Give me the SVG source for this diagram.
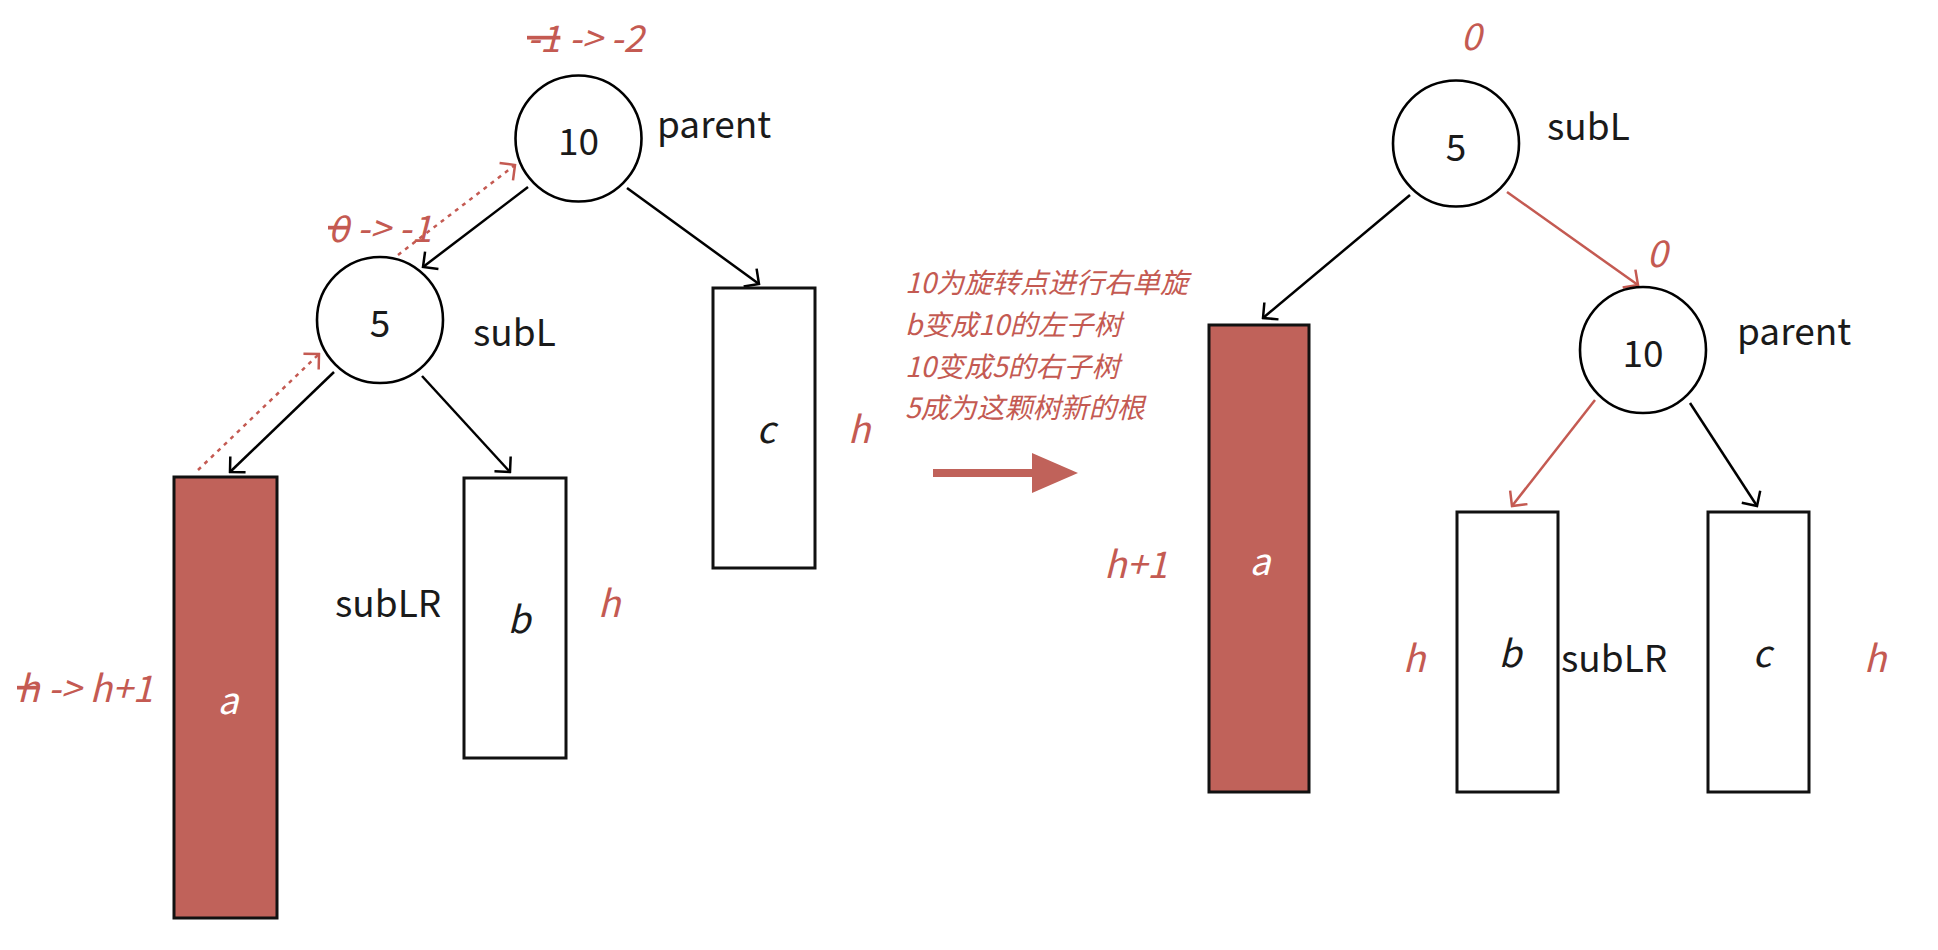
<svg xmlns="http://www.w3.org/2000/svg" width="1938" height="950" viewBox="0 0 1938 950">
<style>
.bg{fill:#ffffff}
.node{fill:#ffffff;stroke:#000;stroke-width:2.6}
.box{fill:#ffffff;stroke:#111;stroke-width:3}
.boxr{fill:#c0625a;stroke:#111;stroke-width:3}
.t{font-family:"Noto Sans CJK SC","Noto Sans",sans-serif;font-size:37px;fill:#1a1a1a}
.ti{font-family:"Noto Sans CJK SC","Noto Sans",sans-serif;font-size:37px;font-style:italic;fill:#1a1a1a}
.tw{font-family:"Noto Sans CJK SC","Noto Sans",sans-serif;font-size:37px;font-style:italic;fill:#ffffff}
.tr{font-family:"Noto Sans CJK SC","Noto Sans",sans-serif;font-size:37px;font-style:italic;fill:#c45a52}
.cn{font-family:"Noto Sans CJK SC","Noto Sans",sans-serif;font-size:28px;font-style:italic;fill:#c45a52}
.strike{text-decoration:line-through}
.lk{stroke:#000;stroke-width:2.5;fill:none}
.lr{stroke:#c45a52;stroke-width:2.5;fill:none}
.ld{stroke:#c45a52;stroke-width:2.5;fill:none;stroke-dasharray:4 5}
</style>
<defs>
<marker id="ak" viewBox="-14 -14 16 28" refX="0" refY="0" markerWidth="16" markerHeight="28" markerUnits="userSpaceOnUse" orient="auto">
<path d="M-11,-11 L0,0 L-11,11" fill="none" stroke="#000" stroke-width="2.5"/>
</marker>
<marker id="ar" viewBox="-14 -14 16 28" refX="0" refY="0" markerWidth="16" markerHeight="28" markerUnits="userSpaceOnUse" orient="auto">
<path d="M-11,-11 L0,0 L-11,11" fill="none" stroke="#c45a52" stroke-width="2.5"/>
</marker>
</defs>
<rect class="bg" x="0" y="0" width="1938" height="950"/>

<g id="connectors">
<line class="lk" x1="528" y1="187" x2="423" y2="267" marker-end="url(#ak)"/>
<line class="lk" x1="627" y1="188" x2="759" y2="284" marker-end="url(#ak)"/>
<line class="lk" x1="334" y1="372" x2="230" y2="472" marker-end="url(#ak)"/>
<line class="lk" x1="422" y1="376" x2="510" y2="472" marker-end="url(#ak)"/>
<line class="ld" x1="198" y1="470" x2="319" y2="354" marker-end="url(#ar)"/>
<line class="ld" x1="398" y1="255" x2="515" y2="165" marker-end="url(#ar)"/>
<line class="lr" x1="1507" y1="192" x2="1638" y2="285" marker-end="url(#ar)"/>
<line class="lk" x1="1410" y1="195" x2="1263" y2="318" marker-end="url(#ak)"/>
<line class="lr" x1="1595" y1="400" x2="1512" y2="506" marker-end="url(#ar)"/>
<line class="lk" x1="1690" y1="403" x2="1757" y2="506" marker-end="url(#ak)"/>
</g>

<g id="left-parent">
<circle class="node" cx="578.5" cy="138.5" r="63"/>
<text class="t" x="578.5" y="155" text-anchor="middle">10</text>
<text class="t" x="657" y="138">parent</text>
<text class="tr" x="527" y="52"><tspan class="strike">-1</tspan> -&gt; -2</text>
</g>
<g id="left-subL">
<circle class="node" cx="380" cy="320" r="63"/>
<text class="t" x="380" y="337" text-anchor="middle">5</text>
<text class="t" x="473" y="346">subL</text>
<text class="tr" x="328" y="242"><tspan class="strike">0</tspan> -&gt; -1</text>
</g>
<g id="left-a">
<rect class="boxr" x="174" y="477" width="103" height="441"/>
<text class="tw" x="228" y="714" text-anchor="middle">a</text>
<text class="tr" x="17" y="702"><tspan class="strike">h</tspan> -&gt; h+1</text>
</g>
<g id="left-b">
<rect class="box" x="464" y="478" width="102" height="280"/>
<text class="ti" x="519" y="633" text-anchor="middle">b</text>
<text class="t" x="335" y="617">subLR</text>
<text class="tr" x="609" y="617" text-anchor="middle">h</text>
</g>
<g id="left-c">
<rect class="box" x="713" y="288" width="102" height="280"/>
<text class="ti" x="766" y="443" text-anchor="middle">c</text>
<text class="tr" x="859" y="443" text-anchor="middle">h</text>
</g>

<g id="explain">
<text class="cn" x="905" y="293">10为旋转点进行右单旋</text>
<text class="cn" x="905" y="335">b变成10的左子树</text>
<text class="cn" x="905" y="377">10变成5的右子树</text>
<text class="cn" x="905" y="418">5成为这颗树新的根</text>
<line x1="933" y1="473" x2="1040" y2="473" stroke="#c0625a" stroke-width="8"/>
<polygon points="1032,453 1078,473 1032,493" fill="#c0625a"/>
</g>

<g id="right-subL">
<circle class="node" cx="1456" cy="143.5" r="63"/>
<text class="t" x="1456" y="161" text-anchor="middle">5</text>
<text class="t" x="1547" y="140">subL</text>
<text class="tr" x="1471" y="50" text-anchor="middle">0</text>
</g>
<g id="right-parent">
<circle class="node" cx="1643" cy="350" r="63"/>
<text class="t" x="1643" y="367" text-anchor="middle">10</text>
<text class="t" x="1737" y="345">parent</text>
<text class="tr" x="1657" y="267" text-anchor="middle">0</text>
</g>
<g id="right-a">
<rect class="boxr" x="1209" y="325" width="100" height="467"/>
<text class="tw" x="1260" y="575" text-anchor="middle">a</text>
<text class="tr" x="1104" y="578">h+1</text>
</g>
<g id="right-b">
<rect class="box" x="1457" y="512" width="101" height="280"/>
<text class="ti" x="1510" y="667" text-anchor="middle">b</text>
<text class="t" x="1561" y="672">subLR</text>
<text class="tr" x="1414" y="672" text-anchor="middle">h</text>
</g>
<g id="right-c">
<rect class="box" x="1708" y="512" width="101" height="280"/>
<text class="ti" x="1762" y="667" text-anchor="middle">c</text>
<text class="tr" x="1875" y="672" text-anchor="middle">h</text>
</g>
</svg>
